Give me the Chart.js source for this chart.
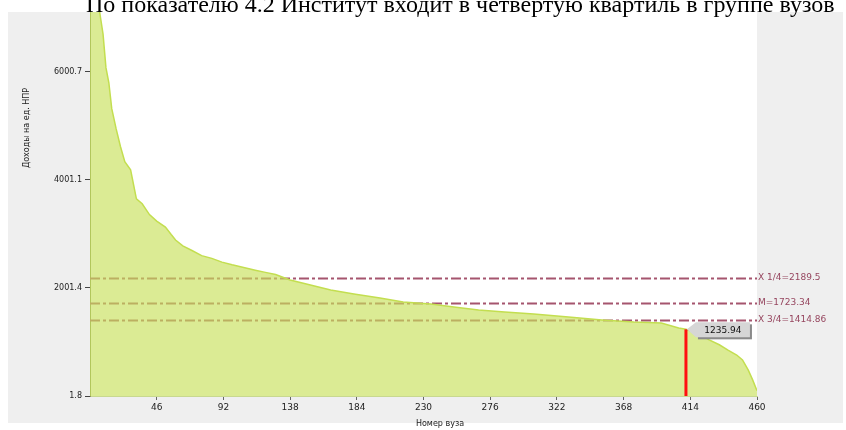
<!DOCTYPE html>
<html>
<head>
    <meta charset="UTF-8">
    <title>Показатель 4.2</title>
    <script src="https://cdn.jsdelivr.net/npm/chart.js@4.4.1/dist/chart.umd.min.js"></script>
    <style type="text/css">
        body { margin: 0; background: #fff; }
        #wrap { width: 846px; height: 430px; }
    </style>
</head>
<body>
    <div id="wrap"><canvas id="_canvas" width="846" height="430"></canvas></div>
    <script type="text/javascript">
        // номер вуза (по порядку) и значение показателя
        var ranks = [0, 4, 7, 9, 11, 13, 15, 18, 21, 24, 28, 32, 36, 41, 46, 52, 56, 59, 64, 70, 77, 84, 91, 98, 106, 114, 121, 128, 138, 152, 166, 182, 200, 216, 235, 251, 268, 286, 306, 330, 353, 375, 394, 406, 411, 420, 427, 434, 440, 446, 450, 454, 457, 460];
        var values = [9800, 7600, 7050, 6700, 6080, 5800, 5320, 4950, 4620, 4340, 4190, 3650, 3560, 3360, 3240, 3130, 2990, 2890, 2780, 2700, 2600, 2550, 2480, 2430, 2380, 2330, 2290, 2250, 2150, 2055, 1965, 1890, 1815, 1741, 1704, 1650, 1595, 1556, 1519, 1465, 1410, 1370, 1352, 1260, 1235.94, 1150, 1040, 950, 850, 760, 670, 480, 300, 100];

        var xTicks = [46, 92, 138, 184, 230, 276, 322, 368, 414, 460];
        var yTicks = [1.8, 2001.4, 4001.1, 6000.7];

        // линии квартилей и медианы
        var refNames = ["X 1/4=2189.5", "M=1723.34", "X 3/4=1414.86"];
        var refValues = [2189.5, 1723.34, 1414.86];

        // институт
        var ourRank = 411;
        var ourValue = 1235.94;

        var title = "По показателю 4.2 Институт входит в четвертую квартиль в группе вузов";

        var points = [];
        for (var i = 0; i < ranks.length; i++) {
            points.push({ x: ranks[i], y: values[i] });
        }

        var decor = {
            id: "decor",
            beforeDraw: function (chart) {
                var c = chart.ctx, a = chart.chartArea;
                c.save();
                c.fillStyle = "#ffffff";
                c.fillRect(0, 0, 846, 430);
                c.fillStyle = "#efefef";
                c.fillRect(8, 12, 835, 411);
                c.fillStyle = "#ffffff";
                c.fillRect(a.left, a.top, a.right - a.left, a.bottom - a.top);
                c.restore();
            },
            beforeDatasetsDraw: function (chart) {
                var c = chart.ctx, a = chart.chartArea, ys = chart.scales.y;
                c.save();
                c.strokeStyle = "rgb(165,85,110)";
                c.lineWidth = 2;
                c.setLineDash([10, 3, 3, 3]);
                for (var i = 0; i < refValues.length; i++) {
                    var py = Math.round(ys.getPixelForValue(refValues[i])) + 0.5;
                    c.beginPath();
                    c.moveTo(a.left, py);
                    c.lineTo(a.right, py);
                    c.stroke();
                }
                c.restore();
            },
            afterDatasetsDraw: function (chart) {
                var c = chart.ctx, a = chart.chartArea, xs = chart.scales.x, ys = chart.scales.y;
                c.save();
                // подписи линий
                c.font = "9px 'DejaVu Sans'";
                c.fillStyle = "rgb(150,70,95)";
                c.textBaseline = "middle";
                c.textAlign = "left";
                for (var i = 0; i < refValues.length; i++) {
                    c.fillText(refNames[i], a.right + 1, ys.getPixelForValue(refValues[i]));
                }
                // красная линия
                var px = xs.getPixelForValue(ourRank);
                var top = ys.getPixelForValue(ourValue);
                c.strokeStyle = "#ff1010";
                c.lineWidth = 3;
                c.beginPath();
                c.moveTo(px, a.bottom);
                c.lineTo(px, top);
                c.stroke();
                // подсказка
                var bx = px + 10, by = top - 7, bw = 54, bh = 15;
                c.fillStyle = "#8a8a8a";
                c.fillRect(bx + 2, by + 2, bw, bh);
                c.fillStyle = "#d6d6d6";
                c.beginPath();
                c.moveTo(px + 1, top);
                c.lineTo(bx, by);
                c.lineTo(bx + bw, by);
                c.lineTo(bx + bw, by + bh);
                c.lineTo(bx, by + bh);
                c.closePath();
                c.fill();
                c.fillStyle = "#111";
                c.font = "9px 'DejaVu Sans'";
                c.textAlign = "center";
                c.fillText(ourValue.toFixed(2), bx + bw / 2, by + bh / 2 + 1);
                // заголовки осей
                c.fillStyle = "#222";
                c.font = "8px 'DejaVu Sans'";
                c.textAlign = "center";
                c.textBaseline = "top";
                c.fillText("Номер вуза", 440, 420);
                c.translate(27, 128);
                c.rotate(-Math.PI / 2);
                c.textBaseline = "middle";
                c.fillText("Доходы на ед. НПР", 0, 0);
                c.restore();
                // заголовок
                c.save();
                c.font = "24px 'Liberation Serif'";
                c.fillStyle = "#000";
                c.textBaseline = "alphabetic";
                c.textAlign = "left";
                c.fillText(title, 86, 12);
                c.restore();
            }
        };

        var ctx = document.getElementById("_canvas").getContext("2d");
        var chart = new Chart(ctx, {
            type: "line",
            data: {
                datasets: [{
                    data: points,
                    fill: "origin",
                    backgroundColor: "rgba(200,225,90,0.65)",
                    borderColor: "rgb(195,222,80)",
                    borderWidth: 1.5,
                    pointRadius: 0,
                    tension: 0
                }]
            },
            options: {
                responsive: false,
                animation: false,
                layout: { padding: { left: 8, top: 12, right: 89, bottom: 0 } },
                plugins: { legend: { display: false }, tooltip: { enabled: false } },
                scales: {
                    x: {
                        type: "linear",
                        min: 0,
                        max: 460,
                        afterFit: function (s) { s.height = 34; },
                        afterBuildTicks: function (s) { s.ticks = xTicks.map(function (v) { return { value: v }; }); },
                        grid: { drawOnChartArea: false, drawTicks: true, tickLength: 4, color: "#666" },
                        border: { color: "#c8d890" },
                        ticks: {
                            color: "#222",
                            font: { family: "DejaVu Sans", size: 9 },
                            padding: 2,
                            maxRotation: 0,
                            callback: function (v) { return String(v); }
                        }
                    },
                    y: {
                        type: "linear",
                        min: 1.8,
                        max: 7110,
                        afterFit: function (s) { s.width = 82; },
                        afterBuildTicks: function (s) { s.ticks = yTicks.map(function (v) { return { value: v }; }); },
                        grid: { drawOnChartArea: false, drawTicks: true, tickLength: 5, color: "#444" },
                        border: { color: "#8a9460" },
                        ticks: {
                            color: "#222",
                            font: { family: "DejaVu Sans", size: 8 },
                            padding: 3,
                            callback: function (v) { return String(v); }
                        }
                    }
                }
            },
            plugins: [decor]
        });
    </script>
</body>
</html>
